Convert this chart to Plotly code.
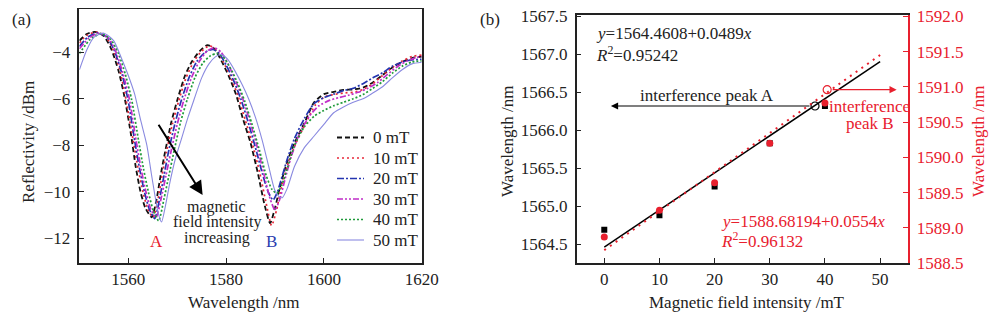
import plotly.graph_objects as go

FONT = "Liberation Serif"

# ---------------- Panel (a) data: reflection spectra ----------------
wl_0 = [1550, 1551.5, 1553.2, 1555, 1556.5, 1558, 1559.2, 1560.6, 1561.5, 1562.5, 1563.5, 1564.8, 1565.8, 1566.6, 1567.6, 1568.8, 1570.1, 1571.6, 1573, 1574.6, 1576.2, 1577.6, 1579, 1580.5, 1582, 1583.5, 1585, 1586.5, 1587.8, 1589, 1590, 1591, 1592.5, 1594, 1596, 1598, 1600, 1602, 1604, 1606, 1608, 1610, 1612, 1614, 1616, 1618, 1620]
r_0 = [-3.5, -3.22, -3.12, -3.3, -3.85, -4.8, -5.9, -7.6, -8.9, -10.0, -10.7, -11.1, -10.3, -9.3, -8.2, -7.0, -6.0, -5.0, -4.4, -3.95, -3.69, -3.85, -4.35, -5.0, -5.8, -6.9, -7.9, -9.2, -10.5, -11.35, -10.7, -9.8, -8.7, -7.9, -7.05, -6.15, -5.8, -5.7, -5.62, -5.6, -5.52, -5.3, -4.98, -4.65, -4.42, -4.25, -4.19]

wl_10 = [1550, 1551.5, 1553.5, 1555.3, 1556.8, 1558.3, 1559.5, 1561, 1562, 1563, 1564, 1565.1, 1566.1, 1566.9, 1567.8, 1569, 1570.3, 1571.8, 1573.4, 1575, 1576.6, 1578, 1579.4, 1580.9, 1582.4, 1583.9, 1585.4, 1586.9, 1588.2, 1589.3, 1590.3, 1591.3, 1592.8, 1594.3, 1596.3, 1598.3, 1600.3, 1602, 1604, 1606, 1608, 1610, 1612, 1614, 1616, 1618, 1620]
r_10 = [-3.6, -3.28, -3.13, -3.3, -3.85, -4.8, -6.0, -7.8, -9.0, -10.0, -10.75, -11.1, -10.3, -9.3, -8.3, -7.1, -6.1, -5.1, -4.4, -3.95, -3.72, -3.9, -4.4, -5.05, -5.85, -6.9, -7.95, -9.2, -10.5, -11.45, -10.8, -9.8, -8.7, -7.9, -7.05, -6.25, -5.9, -5.82, -5.75, -5.72, -5.6, -5.35, -5.0, -4.65, -4.38, -4.18, -4.12]

wl_20 = [1550, 1551.7, 1553.8, 1555.6, 1557.1, 1558.6, 1559.9, 1561.3, 1562.3, 1563.3, 1564.3, 1565.4, 1566.4, 1567.3, 1568.2, 1569.5, 1570.8, 1572.4, 1574, 1575.7, 1577.3, 1578.6, 1580, 1581.5, 1583, 1584.5, 1586, 1587.4, 1588.6, 1589.6, 1590.5, 1591.5, 1592.5, 1594, 1596, 1598, 1600, 1602, 1604, 1606, 1608, 1610, 1612, 1614, 1616, 1618, 1620]
r_20 = [-3.75, -3.35, -3.16, -3.35, -3.9, -4.85, -6.0, -7.8, -9.0, -10.0, -10.75, -11.15, -10.3, -9.3, -8.3, -7.1, -6.1, -5.1, -4.4, -4.0, -3.88, -4.05, -4.55, -5.2, -6.0, -7.0, -8.1, -9.2, -10.0, -10.35, -10.0, -9.3, -8.6, -7.7, -6.85, -6.2, -5.95, -5.8, -5.65, -5.55, -5.35, -5.1, -4.88, -4.6, -4.42, -4.33, -4.3]

wl_30 = [1550, 1552, 1554, 1555.9, 1557.4, 1558.9, 1560.2, 1561.6, 1562.6, 1563.6, 1564.6, 1565.7, 1566.7, 1567.7, 1568.7, 1570, 1571.3, 1572.9, 1574.5, 1576.1, 1577.6, 1579, 1580.4, 1581.9, 1583.4, 1584.9, 1586.4, 1587.8, 1589, 1590, 1591, 1592, 1593.3, 1595, 1597, 1599, 1601, 1603, 1605, 1607, 1609, 1611, 1613, 1615, 1617, 1619, 1620]
r_30 = [-3.85, -3.38, -3.18, -3.38, -3.95, -4.9, -6.0, -7.8, -9.0, -10.0, -10.75, -11.1, -10.3, -9.3, -8.3, -7.1, -6.1, -5.1, -4.4, -3.95, -3.8, -4.0, -4.5, -5.2, -6.0, -7.0, -8.1, -9.3, -10.3, -10.78, -10.3, -9.5, -8.5, -7.5, -6.75, -6.3, -6.08, -5.95, -5.85, -5.72, -5.55, -5.3, -4.95, -4.62, -4.38, -4.22, -4.19]

wl_40 = [1550, 1552.2, 1554.5, 1556.4, 1557.9, 1559.4, 1560.7, 1562.1, 1563.1, 1564.1, 1565.1, 1566.2, 1567.3, 1568.3, 1569.4, 1570.7, 1572.1, 1573.7, 1575.3, 1576.8, 1578.1, 1579.4, 1580.8, 1582.3, 1583.8, 1585.3, 1586.8, 1588.2, 1589.4, 1590.4, 1591.4, 1592.5, 1594, 1596, 1598, 1600, 1602, 1604, 1606, 1608, 1610, 1612, 1614, 1616, 1618, 1620]
r_40 = [-4.05, -3.45, -3.2, -3.45, -4.0, -4.95, -6.05, -7.8, -9.0, -10.0, -10.8, -11.25, -10.3, -9.3, -8.2, -7.0, -6.0, -5.05, -4.45, -4.15, -4.05, -4.2, -4.65, -5.3, -6.1, -7.1, -8.2, -9.3, -9.9, -10.06, -9.7, -9.0, -8.0, -7.2, -6.75, -6.5, -6.3, -6.15, -6.0, -5.82, -5.55, -5.26, -4.9, -4.6, -4.42, -4.37]

wl_50 = [1550, 1551.5, 1553, 1555, 1557, 1558.5, 1560, 1561.3, 1562.5, 1563.8, 1564.7, 1565.4, 1566.1, 1566.8, 1567.6, 1568.5, 1569.6, 1570.9, 1572.2, 1573.5, 1575, 1576.5, 1577.8, 1579, 1580.3, 1581.8, 1583.3, 1584.6, 1586, 1587.4, 1588.7, 1589.9, 1590.8, 1591.5, 1592.5, 1594, 1596, 1598, 1600, 1602, 1604, 1606, 1608, 1610, 1612, 1614, 1616, 1618, 1620]
r_50 = [-4.75, -3.9, -3.35, -3.18, -3.5, -4.2, -5.0, -5.8, -6.9, -8.0, -9.2, -10.1, -10.9, -11.3, -10.6, -9.6, -8.6, -7.7, -6.8, -6.0, -5.1, -4.5, -4.2, -4.1, -4.3, -4.8, -5.4, -6.0, -6.8, -7.8, -8.9, -9.9, -10.2, -10.25, -9.85, -8.9, -8.1, -7.6, -7.1, -6.6, -6.35, -6.15, -6.0, -5.75, -5.48, -5.1, -4.75, -4.5, -4.43]

series_names = ["0 mT", "10 mT", "20 mT", "30 mT", "40 mT", "50 mT"]
series_wl = [wl_0, wl_10, wl_20, wl_30, wl_40, wl_50]
series_r = [r_0, r_10, r_20, r_30, r_40, r_50]
series_colors = ["#111111", "#e8283a", "#2435b0", "#c02ec8", "#1f9a3a", "#8a8ae0"]
series_dash = ["5px,3px", "2px,3px", "7px,2px,2px,2px", "6px,2px,2px,2px,2px,2px", "2px,2px", "solid"]
series_width = [1.8, 1.7, 1.7, 1.7, 1.7, 1.1]

# ---------------- Panel (b) data: peak wavelengths ----------------
field = [0, 10, 20, 30, 40]
peak_a = [1564.69, 1564.88, 1565.26, 1565.83, 1566.32]
peak_b = [1588.87, 1589.25, 1589.64, 1590.20, 1590.77]
fit_a = (1564.4608, 0.0489)
fit_b = (1588.68194, 0.0554)
fit_x = [0, 50]
marker_a = (38.2, 1566.32)
marker_b = (40.4, 1590.96)
arrow_a_end = 1.2
arrow_b_end = 53.0

W, H = 1000, 316
OFF = 8  # page body margin


def px(x):
    return (x - OFF) / W


def py(y):
    return 1 - (y - OFF) / H


fig = go.Figure()

for name, xs, ys, c, d, w in zip(series_names, series_wl, series_r, series_colors, series_dash, series_width):
    fig.add_trace(go.Scatter(
        x=xs, y=ys, name=name, mode="lines",
        line=dict(color=c, dash=d, width=w, shape="spline", smoothing=0.6),
        xaxis="x", yaxis="y", showlegend=False,
    ))

# panel (b)
fig.add_trace(go.Scatter(
    x=fit_x, y=[fit_a[0] + fit_a[1] * v for v in fit_x], mode="lines",
    line=dict(color="black", width=1.5), xaxis="x2", yaxis="y2", showlegend=False))
fig.add_trace(go.Scatter(
    x=fit_x, y=[fit_b[0] + fit_b[1] * v for v in fit_x], mode="lines",
    line=dict(color="#e8202e", width=2, dash="2px,5px"), xaxis="x2", yaxis="y3", showlegend=False))
fig.add_trace(go.Scatter(
    x=field, y=peak_a, mode="markers",
    marker=dict(symbol="square", size=6, color="black"), xaxis="x2", yaxis="y2", showlegend=False))
fig.add_trace(go.Scatter(
    x=field, y=peak_b, mode="markers",
    marker=dict(symbol="circle", size=7, color="#e8202e"), xaxis="x2", yaxis="y3", showlegend=False))
fig.add_trace(go.Scatter(
    x=[marker_a[0]], y=[marker_a[1]], mode="markers",
    marker=dict(symbol="circle-open", size=8, color="black", line=dict(width=1.2)),
    xaxis="x2", yaxis="y2", showlegend=False))
fig.add_trace(go.Scatter(
    x=[marker_b[0]], y=[marker_b[1]], mode="markers",
    marker=dict(symbol="circle-open", size=8, color="#e8202e", line=dict(width=1.2)),
    xaxis="x2", yaxis="y3", showlegend=False))

axis_common = dict(showline=True, linecolor="#222", linewidth=1.5, ticks="inside",
                   ticklen=5, tickcolor="#222", showgrid=False, zeroline=False,
                   automargin=False, ticklabeloverflow="allow",
                   tickfont=dict(family=FONT, size=17, color="#222"))

fig.update_layout(
    width=W, height=H, autosize=False,
    margin=dict(l=0, r=0, t=0, b=0),
    paper_bgcolor="white", plot_bgcolor="white",
    template="none",
    showlegend=False,
    font=dict(family=FONT, size=17, color="#222"),
    xaxis=dict(domain=[px(79.4), px(421.7)], range=[1550, 1620], tickvals=[1560, 1580, 1600, 1620],
               mirror=True, anchor="y", **axis_common),
    yaxis=dict(domain=[py(263), py(9)], range=[-13.06, -2.14], tickvals=[-4, -6, -8, -10, -12],
               mirror=True, anchor="x", ticklabelstandoff=4, **axis_common),
    xaxis2=dict(domain=[px(576.7), px(907.7)], range=[-5, 55], tickvals=[0, 10, 20, 30, 40, 50],
                mirror=True, anchor="y2", **axis_common),
    yaxis2=dict(domain=[py(263), py(15)], range=[1564.25, 1567.52],
                tickvals=[1564.5, 1565.0, 1565.5, 1566.0, 1566.5, 1567.0, 1567.5], tickformat=".1f",
                anchor="x2", ticklabelstandoff=4, **axis_common),
    yaxis3=dict(domain=[py(263), py(15)], range=[1588.5, 1592.02], overlaying="y2", side="right",
                anchor="x2", tickvals=[1588.5, 1589.0, 1589.5, 1590.0, 1590.5, 1591.0, 1591.5, 1592.0],
                tickformat=".1f", showline=True, linecolor="#e8202e", linewidth=1.5, ticks="inside",
                ticklen=5, tickcolor="#e8202e", showgrid=False, zeroline=False, automargin=False,
                ticklabeloverflow="allow",
                ticklabelstandoff=4, tickfont=dict(family=FONT, size=17, color="#e8202e")),
)

ann = []
shapes = []


def text(x, y, t, size=17, color="#222", xanchor="center", angle=0):
    ann.append(dict(x=px(x), y=py(y), xref="paper", yref="paper", text=t, showarrow=False,
                    xanchor=xanchor, yanchor="middle", textangle=angle,
                    font=dict(family=FONT, size=size, color=color)))


# legend of panel (a), drawn as line samples + labels
for i, (name, c, d, w) in enumerate(zip(series_names, series_colors, series_dash, series_width)):
    yy = 137.5 + 20.5 * i
    shapes.append(dict(type="line", xref="paper", yref="paper", x0=px(337), x1=px(364),
                       y0=py(yy), y1=py(yy), line=dict(color=c, dash=d, width=w)))
    text(371, yy, name, 17, xanchor="left")

# panel (a) texts
text(21, 20, "(a)", 17)
text(28, 142, "Reflectivity /dBm", 17, angle=-90)
text(243, 302, "Wavelength /nm", 17)
text(216.7, 206.5, "magnetic", 16)
text(216.7, 222, "field intensity", 16)
text(216.7, 237.5, "increasing", 16)
text(156, 242, "A", 17, color="#e8202e")
text(271.7, 242, "B", 17, color="#2a3cb0")

# panel (b) texts
text(490, 20, "(b)", 17)
text(507, 142, "Wavelength /nm", 17, angle=-90)
text(978, 142, "Wavelength /nm", 17, color="#e8202e", angle=-90)
text(746.7, 302, "Magnetic field intensity /mT", 17)
text(594, 33.5, "<i>y</i>=1564.4608+0.0489<i>x</i>", 17, xanchor="left")
text(594, 53.5, "<i>R</i><sup>2</sup>=0.95242", 17, xanchor="left")
text(706.7, 95, "interference peak A", 17)
text(869.5, 106, "interference", 17, color="#e8202e")
text(870, 123.5, "peak B", 17, color="#e8202e")
text(719, 221, "<i>y</i>=1588.68194+0.0554<i>x</i>", 17, color="#e8202e", xanchor="left")
text(719, 240, "<i>R</i><sup>2</sup>=0.96132", 17, color="#e8202e", xanchor="left")

# arrows
ann.append(dict(x=1575.2, y=-10.14, ax=1566.0, ay=-7.05, xref="x", yref="y", axref="x", ayref="y",
                text="", showarrow=True, arrowhead=2, arrowsize=1.4, arrowwidth=2, arrowcolor="black"))
ann.append(dict(x=arrow_a_end, y=marker_a[1], ax=marker_a[0], ay=marker_a[1], xref="x2", yref="y2",
                axref="x2", ayref="y2", text="", showarrow=True, arrowhead=2, arrowsize=1.2,
                arrowwidth=1.2, arrowcolor="black", startstandoff=4))
ann.append(dict(x=arrow_b_end, y=marker_b[1], ax=marker_b[0], ay=marker_b[1], xref="x2", yref="y3",
                axref="x2", ayref="y3", text="", showarrow=True, arrowhead=2, arrowsize=1.2,
                arrowwidth=1.2, arrowcolor="#e8202e", startstandoff=4))

fig.update_layout(annotations=ann, shapes=shapes)

fig.write_html("out.html")
